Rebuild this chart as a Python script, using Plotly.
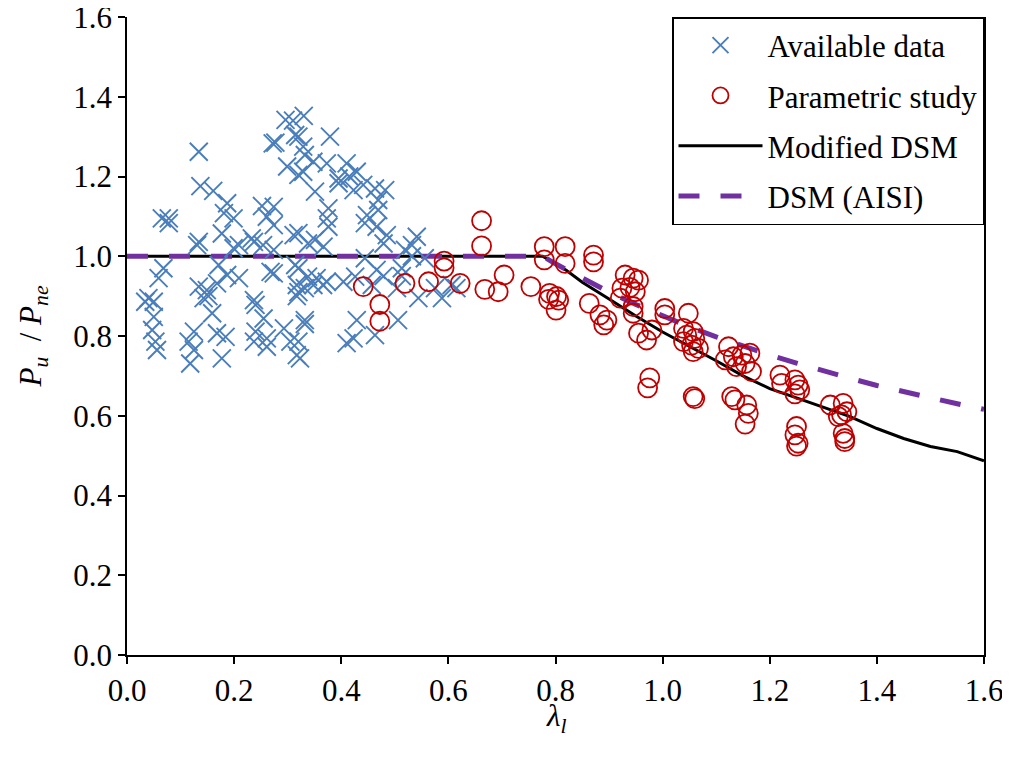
import plotly.graph_objects as go

# ---- Data ----
avail_lambda = [0.134,0.137,0.161,0.296,0.310,0.330,0.277,0.272,0.314,0.299,0.320,
                0.065,0.078,0.078,0.187,0.181,0.199,0.252,0.274,0.261,0.274,
                0.177,0.134,0.233,0.311,0.131,0.068,0.059,0.040,0.050,0.034,
                0.050,0.047,0.053,0.056,0.134,0.149,0.143,0.152,0.168,0.159,
                0.125,0.115,0.125,0.118,0.168,0.184,0.177,0.171,0.187,0.209,
                0.237,0.240,0.255,0.240,0.237,0.261,0.261,0.268,0.274,0.293,
                0.305,0.317,0.314,0.317,0.317,0.209,0.237,0.254,0.274,0.199,
                0.320,0.379,0.329,0.332,0.348,0.373,0.329,0.410,0.429,0.395,0.415,0.395,
                0.423,0.441,0.463,0.482,0.351,0.469,0.376,0.373,0.448,0.469,0.444,0.466,
                0.485,0.541,0.376,0.320,0.351,
                0.367,0.338,0.444,0.479,0.519,0.532,0.556,0.320,0.338,0.354,0.373,0.348,
                0.366,0.332,0.320,0.404,0.426,0.466,0.479,0.457,0.513,0.513,0.504,0.544,
                0.575,0.588,0.606,0.615,0.429,0.423,0.410,0.463,0.506,0.332,0.332,0.320,
                0.323,0.532]
avail_ratio = [1.262,1.176,1.164,1.342,1.340,1.352,1.285,1.283,1.304,1.225,1.204,
               1.095,1.095,1.083,1.133,1.108,1.095,1.126,1.124,1.099,1.078,
               1.057,1.036,1.045,1.053,1.028,0.970,0.945,0.895,0.886,0.886,
               0.848,0.815,0.786,0.765,0.924,0.915,0.895,0.900,0.932,0.857,
               0.811,0.786,0.765,0.731,0.807,0.798,0.744,0.978,0.953,0.945,
               0.890,0.878,0.844,0.811,0.786,0.794,0.773,0.961,0.957,0.819,
               0.786,0.752,0.978,0.928,0.900,1.028,1.036,1.028,1.016,1.020,
               1.300,1.300,1.275,1.254,1.237,1.233,1.212,1.233,1.212,1.195,1.200,1.183,
               1.166,1.179,1.170,1.166,1.162,1.141,1.120,1.095,1.103,1.116,1.083,1.074,
               1.053,1.049,1.074,1.058,1.041,
               1.024,1.032,0.995,1.032,1.016,1.028,0.995,0.970,0.949,0.945,0.936,0.928,
               0.928,0.920,0.910,0.936,0.949,0.966,0.950,0.928,0.970,0.950,0.920,0.895,
               0.920,0.895,0.928,0.920,0.840,0.794,0.782,0.802,0.840,0.840,0.830,0.786,
               0.744,1.000]

param_lambda = [0.441,0.472,0.472,0.519,0.563,0.592,0.592,0.622,0.662,0.662,0.668,0.693,
                0.704,0.754,0.779,0.779,0.818,0.818,0.789,0.802,0.787,0.806,0.801,0.871,
                0.871,0.863,0.883,0.896,0.890,0.930,0.945,0.924,0.939,0.955,0.949,0.921,
                0.945,0.945,0.955,0.980,0.970,0.976,0.972,1.004,1.004,1.048,1.039,1.045,
                1.057,1.060,1.039,1.054,1.067,1.057,1.057,1.060,1.123,1.132,1.117,1.148,
                1.163,1.154,1.138,1.166,1.129,1.135,1.157,1.160,1.154,1.219,1.222,1.247,
                1.253,1.256,1.247,1.250,1.247,1.253,1.250,1.313,1.337,1.344,1.328,1.334,
                1.337,1.340,1.340]
param_ratio = [0.924,0.879,0.837,0.932,0.936,0.988,0.971,0.932,1.089,1.026,0.917,0.911,
               0.953,0.924,1.024,0.991,1.024,0.982,0.907,0.899,0.892,0.890,0.865,1.003,
               0.986,0.882,0.853,0.840,0.828,0.953,0.945,0.920,0.922,0.940,0.911,0.895,
               0.874,0.857,0.807,0.815,0.790,0.695,0.670,0.869,0.853,0.857,0.819,0.802,
               0.811,0.794,0.786,0.777,0.769,0.761,0.648,0.643,0.773,0.748,0.740,0.752,
               0.757,0.731,0.723,0.711,0.648,0.640,0.627,0.606,0.579,0.702,0.681,0.690,
               0.677,0.665,0.655,0.573,0.552,0.531,0.524,0.627,0.631,0.610,0.598,0.602,
               0.556,0.543,0.535]

mod_lambda = [0.0,0.776,0.82,0.85,0.90,0.95,1.00,1.05,1.10,1.15,1.20,1.25,1.30,1.35,1.40,1.45,1.50,1.55,1.60]
mod_ratio  = [1.0,1.000,0.965,0.935,0.893,0.850,0.810,0.775,0.738,0.700,0.668,0.645,0.622,0.598,0.568,0.543,0.523,0.510,0.487]

aisi_lambda = [0.0,0.776,0.80,0.85,0.90,0.95,1.00,1.05,1.10,1.15,1.20,1.25,1.30,1.35,1.40,1.45,1.50,1.55,1.60]
aisi_ratio  = [1.0,1.000,0.981,0.944,0.910,0.879,0.850,0.823,0.798,0.774,0.752,0.732,0.712,0.694,0.676,0.660,0.645,0.630,0.616]

tick_vals = [0.0,0.2,0.4,0.6,0.8,1.0,1.2,1.4,1.6]
tick_text = ["0.0","0.2","0.4","0.6","0.8","1.0","1.2","1.4","1.6"]

FONT = "Liberation Serif, Times New Roman, serif"
FS = 31

fig = go.Figure()
fig.add_trace(go.Scatter(x=mod_lambda, y=mod_ratio, mode="lines", name="Modified DSM",
                         line=dict(color="black", width=3), legendgroup="c", legendrank=3))
fig.add_trace(go.Scatter(x=aisi_lambda, y=aisi_ratio, mode="lines", name="DSM (AISI)",
                         line=dict(color="#7030a0", width=5, dash="21px,21px"),
                         legendgroup="d", legendrank=4))
fig.add_trace(go.Scatter(x=avail_lambda, y=avail_ratio, mode="markers", name="Available data",
                         marker=dict(symbol="x-thin", size=18, color="#4a7ebb",
                                     line=dict(color="#4a7ebb", width=1.9)),
                         legendgroup="a", legendrank=1))
fig.add_trace(go.Scatter(x=param_lambda, y=param_ratio, mode="markers", name="Parametric study",
                         marker=dict(symbol="circle-open", size=19, color="#c00000",
                                     line=dict(color="#c00000", width=1.8)),
                         legendgroup="b", legendrank=2))

axis_common = dict(range=[0, 1.6], tickvals=tick_vals, ticktext=tick_text,
                   showgrid=False, zeroline=False, showline=True, linecolor="black",
                   linewidth=1.5, ticks="outside", ticklen=7, tickwidth=1.5,
                   tickcolor="black", automargin=False, ticklabeloverflow="allow",
                   tickfont=dict(family=FONT, size=FS, color="black"))

fig.update_xaxes(**axis_common)
fig.update_yaxes(**axis_common, mirror=True,
                 title=dict(text="<i>P<sub>u</sub></i>  / <i>P<sub>ne</sub></i>",
                            font=dict(family=FONT, size=FS, color="black"), standoff=22))

# x-axis title as an annotation so it sits where the reference shows it
fig.add_annotation(text="<i>λ<sub>l</sub></i>", xref="paper", yref="paper", x=0.5, y=0,
                   xanchor="center", yanchor="middle", yshift=-63, showarrow=False,
                   font=dict(family=FONT, size=FS, color="black"))

# page body has an 8px default margin, so the figure is 8px smaller and margins shifted
fig.update_layout(
    width=1002, height=749,
    margin=dict(l=119, r=26, t=9, b=102),
    paper_bgcolor="white", plot_bgcolor="white",
    font=dict(family=FONT, size=FS, color="black"),
    showlegend=True,
    legend=dict(x=1, y=1, xanchor="right", yanchor="top",
                bordercolor="black", borderwidth=1.5, bgcolor="white",
                traceorder="grouped", tracegroupgap=7, itemwidth=84,
                font=dict(family=FONT, size=FS, color="black")),
)

fig.write_html("out.html")
